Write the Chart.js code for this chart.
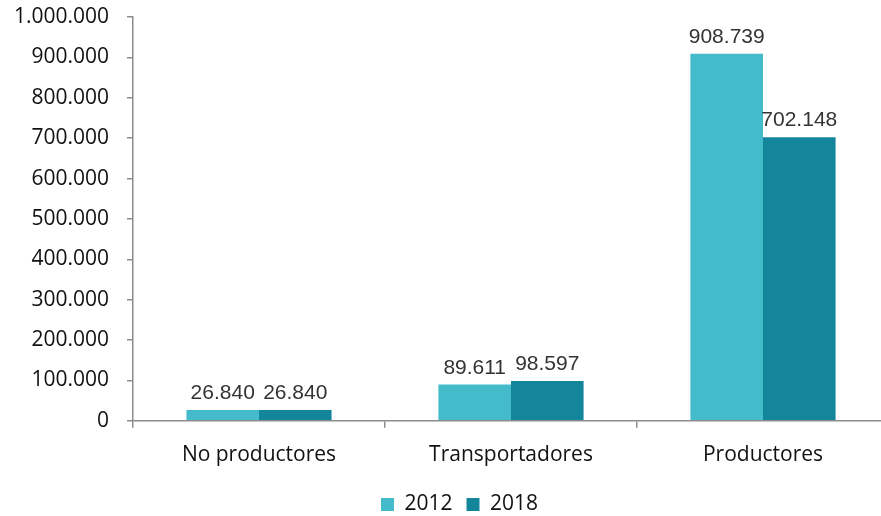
<!DOCTYPE html>
<html>
<head>
<meta charset="utf-8">
<script src="https://cdn.jsdelivr.net/npm/chart.js@4"></script>
<style>
  html, body { margin: 0; padding: 0; background: #fff; overflow: hidden; }
  #wrap { width: 893px; height: 516px; }
</style>
</head>
<body>
<div id="wrap"><canvas id="grafico"></canvas></div>
<script>
// categorías y valores por año
const categorias = ["No productores", "Transportadores", "Productores"];
const valores2012 = [26840, 89611, 908739];
const valores2018 = [26840, 98597, 702148];
const serieNombres = ["2012", "2018"];
const ejeMax = 1000000;
const ejePaso = 100000;

const colores = ["#44BBCB", "#13869B"];
const colorEje = "#8C8C8C";

// 908739 -> "908.739"
function formatoMiles(v) {
  return String(Math.round(v)).replace(/\B(?=(\d{3})+(?!\d))/g, ".");
}

// etiquetas de valor encima de cada barra
const etiquetasValor = {
  id: "etiquetasValor",
  afterDatasetsDraw(chart) {
    const ctx = chart.ctx;
    ctx.save();
    ctx.font = "21px 'Liberation Sans', Arial, sans-serif";
    ctx.fillStyle = "#333";
    ctx.textAlign = "center";
    ctx.textBaseline = "alphabetic";
    chart.data.datasets.forEach((ds, i) => {
      chart.getDatasetMeta(i).data.forEach((bar, j) => {
        ctx.fillText(formatoMiles(ds.data[j]), bar.x, bar.y - 11);
      });
    });
    ctx.restore();
  }
};

// la leyenda va un poco a la derecha del centro
const moverLeyenda = {
  id: "moverLeyenda",
  afterLayout(chart) {
    const lg = chart.legend;
    if (lg) {
      lg.left += 15; lg.right += 15;
      lg.top -= 3; lg.bottom -= 3;
    }
  }
};

new Chart(document.getElementById("grafico"), {
  type: "bar",
  data: {
    labels: categorias,
    datasets: [
      { label: serieNombres[0], data: valores2012, backgroundColor: colores[0] },
      { label: serieNombres[1], data: valores2018, backgroundColor: colores[1] }
    ]
  },
  options: {
    responsive: true,
    maintainAspectRatio: false,
    animation: false,
    layout: { padding: { top: 17, right: 4, bottom: -12, left: 0 } },
    datasets: { bar: { categoryPercentage: 0.576, barPercentage: 1.0 } },
    scales: {
      x: {
        grid: { offset: true, drawOnChartArea: false, drawTicks: true, tickLength: 7, color: colorEje, lineWidth: 1.5 },
        border: { color: colorEje, width: 1.5 },
        ticks: { color: "#111", padding: 15, font: { family: "'Open Sans', sans-serif", size: 21 } }
      },
      y: {
        min: 0,
        max: ejeMax,
        afterFit(scale) { scale.width = 133; scale.paddingTop = 0; },
        grid: { drawOnChartArea: false, drawTicks: true, tickLength: 6, color: colorEje, lineWidth: 1.5 },
        border: { color: colorEje, width: 1.5 },
        ticks: {
          stepSize: ejePaso,
          padding: 18,
          color: "#111",
          font: { family: "'Open Sans', sans-serif", size: 21 },
          callback: v => formatoMiles(v)
        }
      }
    },
    plugins: {
      legend: {
        position: "bottom",
        labels: {
          boxWidth: 13,
          boxHeight: 13,
          padding: 14,
          color: "#111",
          font: { family: "'Open Sans', sans-serif", size: 21 }
        }
      },
      tooltip: { enabled: false }
    }
  },
  plugins: [etiquetasValor, moverLeyenda]
});
</script>
</body>
</html>
